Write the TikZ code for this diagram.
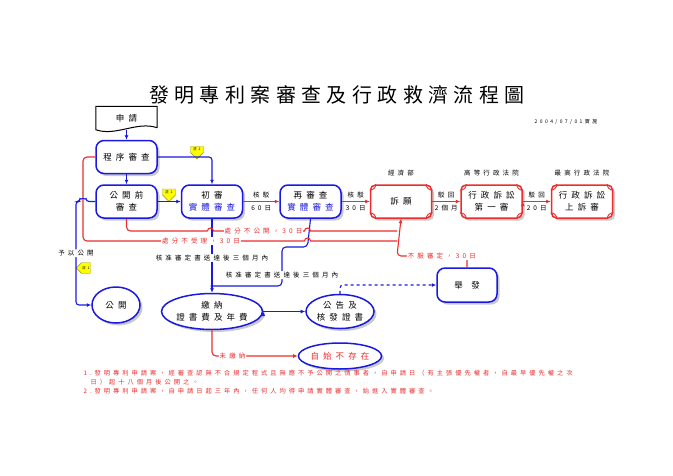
\documentclass[tikz,border=0pt]{standalone}
\usepackage{fontspec}
\setmainfont[LetterSpace=48]{Noto Sans CJK TC}
\newfontfamily\titlefont[LetterSpace=27]{Noto Sans CJK TC}
\usetikzlibrary{positioning,shapes.geometric,shapes.symbols,shadows,arrows.meta}
\definecolor{pblue}{RGB}{25,25,225}
\definecolor{pred}{RGB}{235,45,45}
\definecolor{tagyellow}{RGB}{255,255,0}
\definecolor{tagedge}{RGB}{150,150,0}

\begin{document}
\begin{tikzpicture}[x=1pt,y=-1pt,>={Latex[length=4.5pt,width=4pt]},node distance=28pt,
		every node/.style={font=\fontsize{6.5}{8}\selectfont},
		boxshadow/.style={drop shadow={shadow xshift=2.5pt,shadow yshift=-2.5pt,opacity=.35,fill=black!60}},
		bluebox/.style={draw=pblue,line width=1.5pt,rounded corners=8pt,fill=white,boxshadow,minimum width=61pt,minimum height=33pt,align=center,inner sep=1pt,font=\fontsize{8.5}{12}\selectfont},
		redbox/.style={bluebox,draw=pred,rounded corners=5pt},
		ovalnode/.style={ellipse,draw=pblue,line width=1.5pt,fill=white,boxshadow,align=center,inner sep=0pt,font=\fontsize{8.5}{12}\selectfont},
		bflow/.style={draw=pblue,line width=1.1pt},
		rflow/.style={draw=pred,line width=1.1pt},
		notetag/.style={signal,fill=tagyellow,draw=tagedge,line width=.4pt,inner sep=.5pt,minimum width=13pt,minimum height=10pt,font=\fontsize{3.5}{4}\selectfont},
		onwhite/.style={fill=white,inner sep=1pt}]
	\useasboundingbox (0,0) rectangle (673,475);
	\node[font=\titlefont\fontsize{20}{24}\selectfont](Title) at (337,95) {發明專利案審查及行政救濟流程圖};
	\node[font=\fontsize{5}{6}\selectfont](Date) at (566,122) {2004/07/01實施};

	\node[bluebox](PrePub) at (126.5,201.5) {公開前\\審查};
	\node[bluebox,above=10pt of PrePub](Procedure) {程序審查};
	\node[above=10pt of Procedure,minimum width=61pt,minimum height=23pt,font=\fontsize{8.5}{12}\selectfont](Apply) {申請};
	\node[bluebox,right=23pt of PrePub](Initial) {初審\\\textcolor{pblue}{實體審查}};
	\node[bluebox,right=36pt of Initial](ReExam) {再審查\\\textcolor{pblue}{實體審查}};
	\node[redbox,right=of ReExam](Appeal) {訴願};
	\node[redbox,right=of Appeal](HighCourt) {行政訴訟\\第一審};
	\node[redbox,right=of HighCourt](TopCourt) {行政訴訟\\上訴審};
	\node[above=5pt of Appeal](MOEA) {經濟部};
	\node[above=5pt of HighCourt](HighLabel) {高等行政法院};
	\node[above=5pt of TopCourt](TopLabel) {最高行政法院};

	\node[ovalnode,below=74pt of Initial,minimum width=92pt,minimum height=36pt](Pay) {繳納\\證書費及年費};
	\node[ovalnode,right=42pt of Pay,minimum width=68pt,minimum height=34pt](Announce) {公告及\\核發證書};
	\node[ovalnode,below=13pt of Announce,minimum width=70pt,minimum height=26pt,text=pred](Void) {自始不存在};
	\node[ovalnode,minimum width=48pt,minimum height=36pt](Publish) at (116,305) {公開};
	\node[bluebox,minimum width=60pt,minimum height=34pt](Invalid) at (467,285) {舉\quad 發};

	\node[notetag,signal to=south](NoteTwoA) at (197,149.5) {註2};
	\node[notetag,signal to=south](NoteTwoB) at (169,192) {註2};
	\node[notetag,signal to=west,minimum width=14pt,minimum height=11pt](NoteOne) at (86,268) {註1};

	\draw[line width=1pt] ([yshift=2pt]Apply.south east) -- (Apply.north east) -- (Apply.north west) -- (Apply.south west)
		.. controls +(20pt,-7pt) and +(-20pt,7pt) .. ([yshift=2pt]Apply.south east);
	\foreach \n in {Appeal,HighCourt,TopCourt}{
		\draw[pred,line width=.9pt] ([yshift=-6pt]\n.north west) arc[start angle=270,end angle=360,radius=6pt]
			([xshift=-6pt]\n.north east) arc[start angle=180,end angle=270,radius=6pt]
			([yshift=6pt]\n.south east) arc[start angle=90,end angle=180,radius=6pt]
			([xshift=6pt]\n.south west) arc[start angle=0,end angle=90,radius=6pt];
	}

	\path[->,bflow] (Apply.south)     edge (Procedure.north)
	                (Procedure.south) edge (PrePub.north)
	                (PrePub.east)     edge (Initial.west)
	                (Pay.east)        edge (Announce.west);
	\draw[->,bflow,rounded corners=3pt] (Procedure.east) -| (Initial.north);
	\draw[->,bflow,dashed,rounded corners=3pt] (Announce.north) |- (Invalid.west);

	\path[->,rflow] (Initial.east)   edge node[above](RejectA){核駁} node[below](DaysA){60日}  (ReExam.west)
	                (ReExam.east)    edge node[above](RejectB){核駁} node[below](DaysB){30日}  (Appeal.west)
	                (Appeal.east)    edge node[above](DismissA){駁回} node[below](DaysC){2個月} (HighCourt.west)
	                (HighCourt.east) edge node[above](DismissB){駁回} node[below](DaysD){20日} (TopCourt.west);

	\draw[rflow,rounded corners=4pt] (Procedure.west) -| (83,241) -- (304.5,241);
	\draw[->,bflow,rounded corners=3pt] (PrePub.west) -- (86,201.5) arc[start angle=0,end angle=180,radius=3pt] -- (76,201.5)
		|- node[onwhite,pos=.25](LblPublish){予以公開} (Publish.west);
	\draw[->,bflow] (Initial.south) -- node[onwhite,pos=.53](LblGrantA){核准審定書送達後三個月內} (Initial.south |- Pay.north);
	\draw[bflow,rounded corners=4pt] (ReExam.south) -- (307.5,247) -- (282,247) -- node[onwhite,pos=.72](LblGrantB){核准審定書送達後三個月內} (282,286) -- (210.5,286);

	\draw[rflow,rounded corners=4pt] (PrePub.south) |- (207.5,231);
	\draw[rflow] (207.5,231) arc[start angle=180,end angle=0,radius=3pt] -- node[onwhite,text=pred,pos=.55](LblNoPub){處分不公開，30日} (304.5,231)
		arc[start angle=180,end angle=0,radius=3pt] -- (397,231);
	\draw[rflow] (304.5,241) arc[start angle=180,end angle=0,radius=3pt] -- (397,241);
	\node[onwhite,text=pred](LblReject) at (201,241) {處分不受理，30日};
	\draw[->,rflow,rounded corners=4pt] (Invalid.north) |- node[onwhite,text=pred,pos=.68](LblObject){不服審定，30日} (397,256) -- (Appeal.south);
	\draw[->,rflow,rounded corners=4pt] (Pay.south) |- node[onwhite,text=pred,pos=.62](LblUnpaid){未繳納} (Void.west);

	\node[anchor=north west,align=left,text=pred,font=\fontsize{6.25}{9}\selectfont](Notes) at (80,367)
		{1.發明專利申請案，經審查認無不合規定程式且無應不予公開之情事者，自申請日（有主張優先權者，自最早優先權之次\\
		\hspace*{7pt}日）起十八個月後公開之。\\
		2.發明專利申請案，自申請日起三年內，任何人均得申請實體審查，始進入實體審查。};
\end{tikzpicture}
\end{document}
